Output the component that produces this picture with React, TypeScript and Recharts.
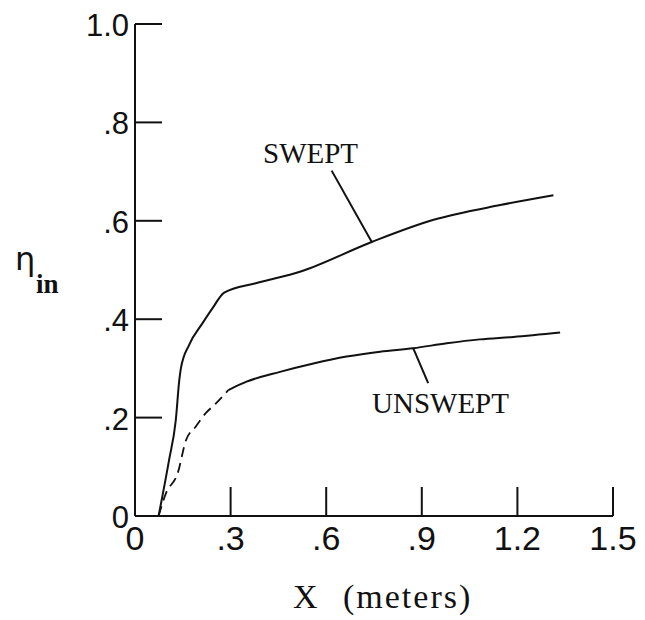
import React from "react";
import { LineChart, Line, XAxis, YAxis, ReferenceLine, Customized } from "recharts";

// x in meters, eta_in
const sweptX = [0.074, 0.107, 0.128, 0.139, 0.144, 0.17, 0.212, 0.243, 0.28, 0.379, 0.52, 0.743, 0.937, 1.146, 1.313];
const sweptY = [0.0, 0.114, 0.195, 0.276, 0.3, 0.348, 0.392, 0.422, 0.454, 0.473, 0.497, 0.557, 0.602, 0.632, 0.652];

const unsweptDashX = [0.074, 0.097, 0.134, 0.16, 0.191, 0.222, 0.254, 0.293];
const unsweptDashY = [0.0, 0.046, 0.087, 0.154, 0.182, 0.209, 0.229, 0.256];
const unsweptX = [0.293, 0.35, 0.455, 0.56, 0.664, 0.769, 0.873, 0.978, 1.082, 1.187, 1.334];
const unsweptY = [0.256, 0.273, 0.293, 0.31, 0.324, 0.334, 0.341, 0.351, 0.359, 0.364, 0.373];

const xTicks = [0, 0.3, 0.6, 0.9, 1.2, 1.5];
const xTickLabels = ["0", ".3", ".6", ".9", "1.2", "1.5"];
const yTicks = [0, 0.2, 0.4, 0.6, 0.8, 1.0];
const yTickLabels = ["0", ".2", ".4", ".6", ".8", "1.0"];

// leader lines from the curve to the labels
const sweptLeader = [{ x: 0.743, y: 0.557 }, { x: 0.617, y: 0.702 }];
const unsweptLeader = [{ x: 0.873, y: 0.341 }, { x: 0.92, y: 0.27 }];

const toPoints = (xs: number[], ys: number[]) => xs.map((x, i) => ({ x, y: ys[i] }));

const swept = toPoints(sweptX, sweptY);
const unsweptDash = toPoints(unsweptDashX, unsweptDashY);
const unswept = toPoints(unsweptX, unsweptY);

const INK = "#111";
const SANS = "'Liberation Sans', Arial, sans-serif";
const SERIF = "'Liberation Serif', 'Times New Roman', serif";

const XTick = (props: any) => {
  const { x, y, payload } = props;
  const i = xTicks.indexOf(payload.value);
  return (
    <g>
      {payload.value !== 0 && <line x1={x} y1={y} x2={x} y2={y - 29} stroke={INK} strokeWidth={2} />}
      <text x={x} y={y + 34} textAnchor="middle" fontFamily={SANS} fontSize={34} fill={INK}>
        {xTickLabels[i]}
      </text>
    </g>
  );
};

const YTick = (props: any) => {
  const { x, y, payload } = props;
  const i = yTicks.indexOf(payload.value);
  return (
    <g>
      {payload.value !== 0 && <line x1={x} y1={y} x2={x + 27} y2={y} stroke={INK} strokeWidth={2} />}
      <text x={x - 6} y={y + 12} textAnchor="end" fontFamily={SANS} fontSize={31} fill={INK}>
        {yTickLabels[i]}
      </text>
    </g>
  );
};

const Annotations = () => (
  <g fill={INK}>
    <text x={263} y={163} fontFamily={SERIF} fontSize={29}>SWEPT</text>
    <text x={372} y={413} fontFamily={SERIF} fontSize={29}>UNSWEPT</text>
    <text x={293} y={608} fontFamily={SERIF} fontSize={34}>X</text>
    <text x={343} y={608} fontFamily={SERIF} fontSize={34} letterSpacing={2}>(meters)</text>
    <text x={15} y={270} fontFamily="'DejaVu Sans', sans-serif" fontSize={32}>η</text>
    <text x={36} y={293} fontFamily={SERIF} fontSize={27} fontWeight="bold">in</text>
  </g>
);

export default function App() {
  return (
    <div style={{ position: "absolute", left: 0, top: 0, background: "#fff" }}>
      <LineChart width={645} height={620} margin={{ top: 24, right: 32, bottom: 64, left: 75 }}>
        <XAxis
          type="number"
          dataKey="x"
          domain={[0, 1.5]}
          ticks={xTicks}
          height={40}
          tickSize={0}
          tickMargin={0}
          tickLine={false}
          tick={<XTick />}
          axisLine={{ stroke: INK, strokeWidth: 2 }}
          allowDataOverflow
        />
        <YAxis
          type="number"
          dataKey="y"
          domain={[0, 1]}
          ticks={yTicks}
          width={60}
          tickSize={0}
          tickMargin={0}
          tickLine={false}
          tick={<YTick />}
          axisLine={{ stroke: INK, strokeWidth: 2 }}
          allowDataOverflow
        />
        <Line data={swept} dataKey="y" type="monotone" stroke={INK} strokeWidth={2} dot={false} isAnimationActive={false} />
        <Line
          data={unsweptDash}
          dataKey="y"
          type="monotone"
          stroke={INK}
          strokeWidth={1.8}
          strokeDasharray="10 6"
          dot={false}
          isAnimationActive={false}
        />
        <Line data={unswept} dataKey="y" type="monotone" stroke={INK} strokeWidth={2} dot={false} isAnimationActive={false} />
        <ReferenceLine segment={sweptLeader} stroke={INK} strokeWidth={2} />
        <ReferenceLine segment={unsweptLeader} stroke={INK} strokeWidth={2} />
        <Customized component={Annotations} />
      </LineChart>
    </div>
  );
}
